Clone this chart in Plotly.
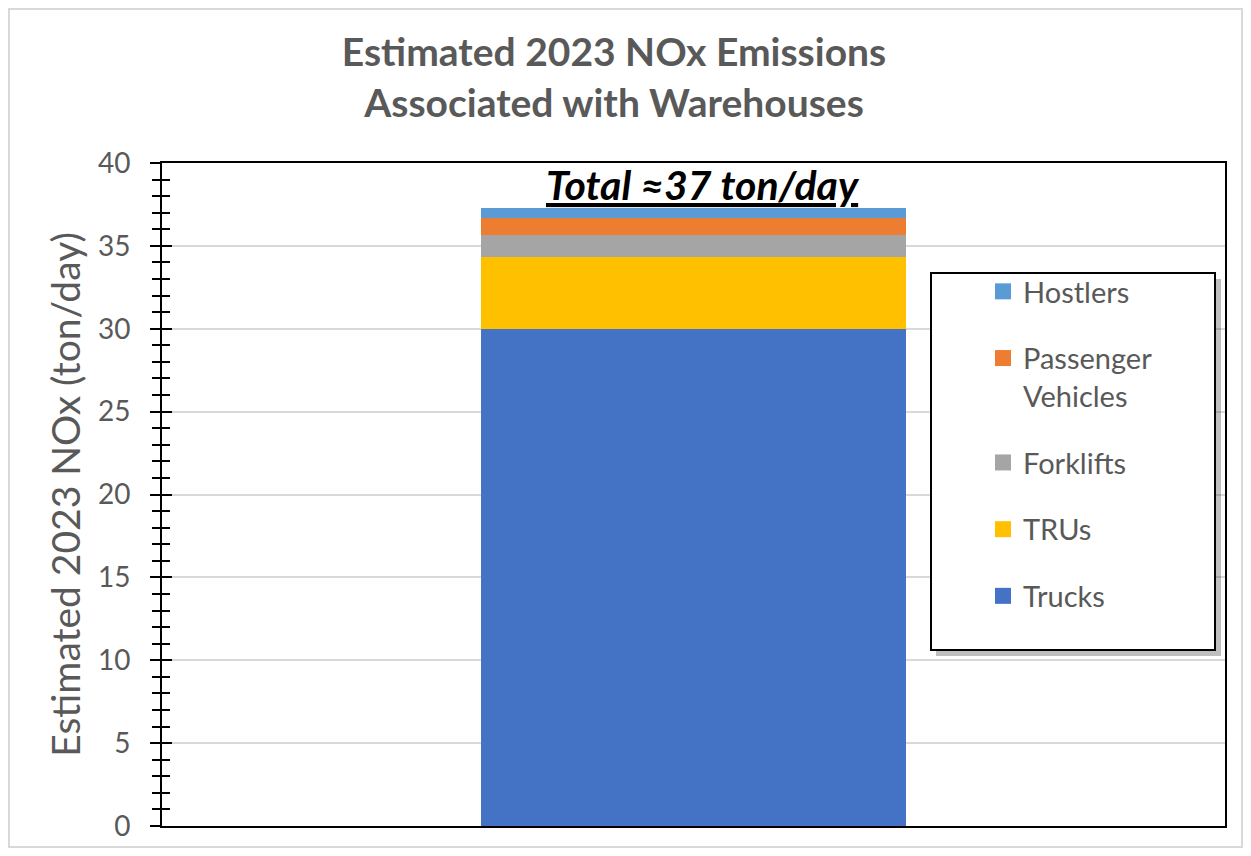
import plotly.graph_objects as go

categories = ["Warehouses"]
series_names = ["Trucks", "TRUs", "Forklifts", "Passenger<br>Vehicles", "Hostlers"]
series_values = [[30.0], [4.33], [1.35], [1.0], [0.63]]
series_colors = ["#4472C4", "#FFC000", "#A5A5A5", "#ED7D31", "#5B9BD5"]
legend_ranks = [5, 4, 3, 2, 1]
y_ticks = [0, 5, 10, 15, 20, 25, 30, 35, 40]

FONT = "Lato, 'Open Sans', sans-serif"
GRAY = "#595959"

# page is offset by the 8px default body margin
OFF = 8
W, H = 1235, 840
L, T, R, B = 154, 155, 18, 22
PW, PH = W - L - R, H - T - B


def px(xpage):
    return (xpage - OFF - L) / PW


def py(ypage):
    return (H - B - (ypage - OFF)) / PH


fig = go.Figure()
for name, vals, col, rk in zip(series_names, series_values, series_colors, legend_ranks):
    fig.add_trace(go.Bar(x=categories, y=vals, name=name, marker=dict(color=col, line=dict(width=0)),
                         width=0.4, legendgroup=name, showlegend=False))
    # legend entry with a larger square swatch
    fig.add_trace(go.Scatter(x=categories, y=[None], name=name, mode="markers",
                             marker=dict(symbol="square", size=18, color=col),
                             legendgroup=name, legendrank=rk, hoverinfo="skip"))

# invisible trace on overlay axis for inner ticks
fig.add_trace(go.Scatter(x=categories, y=[0], yaxis="y2", mode="markers",
                         marker=dict(opacity=0), showlegend=False, hoverinfo="skip"))

fig.update_layout(
    width=W, height=H,
    barmode="stack",
    paper_bgcolor="white", plot_bgcolor="white",
    margin=dict(l=L, r=R, t=T, b=B, autoexpand=False),
    title=dict(text="<b>Estimated 2023 NOx Emissions<br>Associated with Warehouses</b>",
               x=(614 - OFF) / W, xanchor="center", y=1 - (66 - OFF) / H, yanchor="middle",
               font=dict(family=FONT, size=39, color=GRAY)),
    xaxis=dict(showticklabels=False, ticks="", showline=True, linecolor="black", linewidth=2,
               mirror=True, range=[-0.5, 0.5], showgrid=False, automargin=False),
    yaxis=dict(range=[0, 40], tickvals=y_ticks, showgrid=True, gridcolor="#D9D9D9", gridwidth=1.5,
               showline=True, linecolor="black", linewidth=2, mirror=True, automargin=False,
               ticks="outside", ticklen=10, tickwidth=2, tickcolor="black", ticklabelstandoff=14,
               minor=dict(dtick=1, ticks="outside", ticklen=8, tickwidth=2, tickcolor="black", showgrid=False),
               tickfont=dict(family=FONT, size=28, color=GRAY),
               title=dict(text="Estimated 2023 NOx (ton/day)", font=dict(family=FONT, size=39, color=GRAY),
                          standoff=5),
               zeroline=False),
    yaxis2=dict(range=[0, 40], overlaying="y", side="left", tickvals=y_ticks, showticklabels=False,
                showgrid=False, zeroline=False, showline=False, automargin=False,
                ticks="inside", ticklen=10, tickwidth=2, tickcolor="black",
                minor=dict(dtick=1, ticks="inside", ticklen=8, tickwidth=2, tickcolor="black", showgrid=False)),
    legend=dict(x=px(983), xanchor="left", y=py(266), yanchor="top",
                traceorder="grouped", tracegroupgap=26, valign="top",
                font=dict(family=FONT, size=29, color=GRAY), bgcolor="rgba(0,0,0,0)",
                borderwidth=0),
    showlegend=True,
    shapes=[
        # legend box shadow
        dict(type="rect", xref="paper", yref="paper",
             x0=px(936), x1=px(1221), y0=py(656), y1=py(279),
             fillcolor="rgba(0,0,0,0.25)", line=dict(width=0), layer="above"),
        dict(type="rect", xref="paper", yref="paper",
             x0=px(931), x1=px(1215), y0=py(650), y1=py(273),
             fillcolor="white", line=dict(color="black", width=2), layer="above"),
        # outer frame
        dict(type="rect", xref="paper", yref="paper",
             x0=px(OFF + 1), x1=px(OFF + W - 1), y0=py(OFF + H - 1), y1=py(OFF + 1),
             fillcolor="rgba(0,0,0,0)", line=dict(color="#D9D9D9", width=2), layer="below"),
    ],
    annotations=[
        dict(text="<b><i><u>Total ≈37 ton/day</u></i></b>", xref="paper", yref="paper",
             x=px(703), y=py(184), xanchor="center", yanchor="middle", showarrow=False,
             font=dict(family=FONT, size=41, color="black")),
    ],
)

fig.write_html("out.html")
